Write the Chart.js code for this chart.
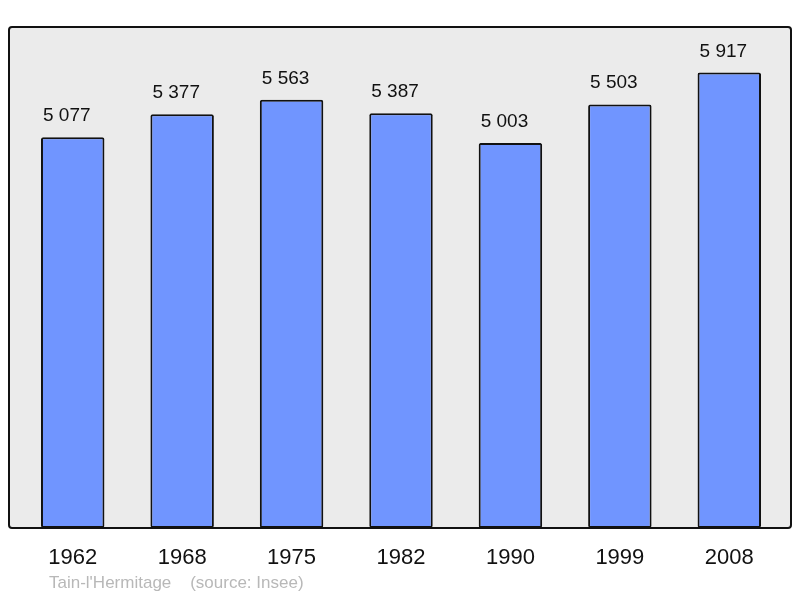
<!DOCTYPE html>
<html>
<head>
<meta charset="utf-8">
<script src="https://cdn.jsdelivr.net/npm/chart.js@4.4.1/dist/chart.umd.min.js"></script>
<style>
    body { margin: 0; background: #fff; }
    #wrap { position: relative; width: 800px; height: 598px; }
    #source {
        position: absolute; left: 49px; top: 573px;
        font-family: "Liberation Sans", Arial, sans-serif;
        font-size: 17px; color: #b8b8b8; white-space: pre;
    }
</style>
</head>
<body>
<div id="wrap">
    <canvas id="chart" width="800" height="598"></canvas>
    <div id="source">Tain-l'Hermitage    (source: Insee)</div>
</div>
<script>
// данные
const years = ["1962", "1968", "1975", "1982", "1990", "1999", "2008"];
const population = [5077, 5377, 5563, 5387, 5003, 5503, 5917];

// число с пробелом между тысячами
function fmt(n) {
    return String(n).replace(/\B(?=(\d{3})+(?!\d))/g, " ");
}

// серый фон с рамкой
const framePlugin = {
    id: 'frame',
    beforeDatasetsDraw(chart) {
        const a = chart.chartArea;
        const c = chart.ctx;
        c.save();
        c.beginPath();
        c.roundRect(a.left - 9, a.top, a.right - a.left + 16, a.bottom - a.top, 3);
        c.fillStyle = '#ebebeb';
        c.fill();
        c.lineWidth = 2;
        c.strokeStyle = '#111';
        c.stroke();
        c.restore();
    }
};

// подписи над столбиками (чуть левее центра, как в оригинале)
const valuesPlugin = {
    id: 'values',
    afterDatasetsDraw(chart) {
        const c = chart.ctx;
        const meta = chart.getDatasetMeta(0);
        c.save();
        c.font = '19px "Liberation Sans", Arial, sans-serif';
        c.fillStyle = '#111';
        c.textAlign = 'left';
        c.textBaseline = 'alphabetic';
        meta.data.forEach((bar, i) => {
            c.fillText(fmt(population[i]), bar.x - bar.width / 2 + 2, bar.y - 16);
        });
        c.restore();
    }
};

const ctx = document.getElementById('chart').getContext('2d');
const myChart = new Chart(ctx, {
    type: 'bar',
    data: {
        labels: years,
        datasets: [{
            data: population,
            backgroundColor: 'rgb(112, 149, 255)',
            borderColor: '#111',
            borderWidth: 2,
            borderRadius: 2,
            borderSkipped: false,
            barPercentage: 0.58,
            categoryPercentage: 1
        }]
    },
    options: {
        responsive: false,
        animation: false,
        layout: { padding: { left: 18, right: 16, top: 27, bottom: 0 } },
        plugins: { legend: { display: false }, tooltip: { enabled: false } },
        scales: {
            y: { display: false, min: 0, max: 6509 },
            x: {
                grid: { display: false, drawTicks: false },
                border: { display: false },
                ticks: {
                    color: '#111',
                    padding: 17,
                    font: { family: '"Liberation Sans", Arial, sans-serif', size: 22 }
                },
                afterFit(scale) { scale.height = 70; }
            }
        }
    },
    plugins: [framePlugin, valuesPlugin]
});
</script>
</body>
</html>
